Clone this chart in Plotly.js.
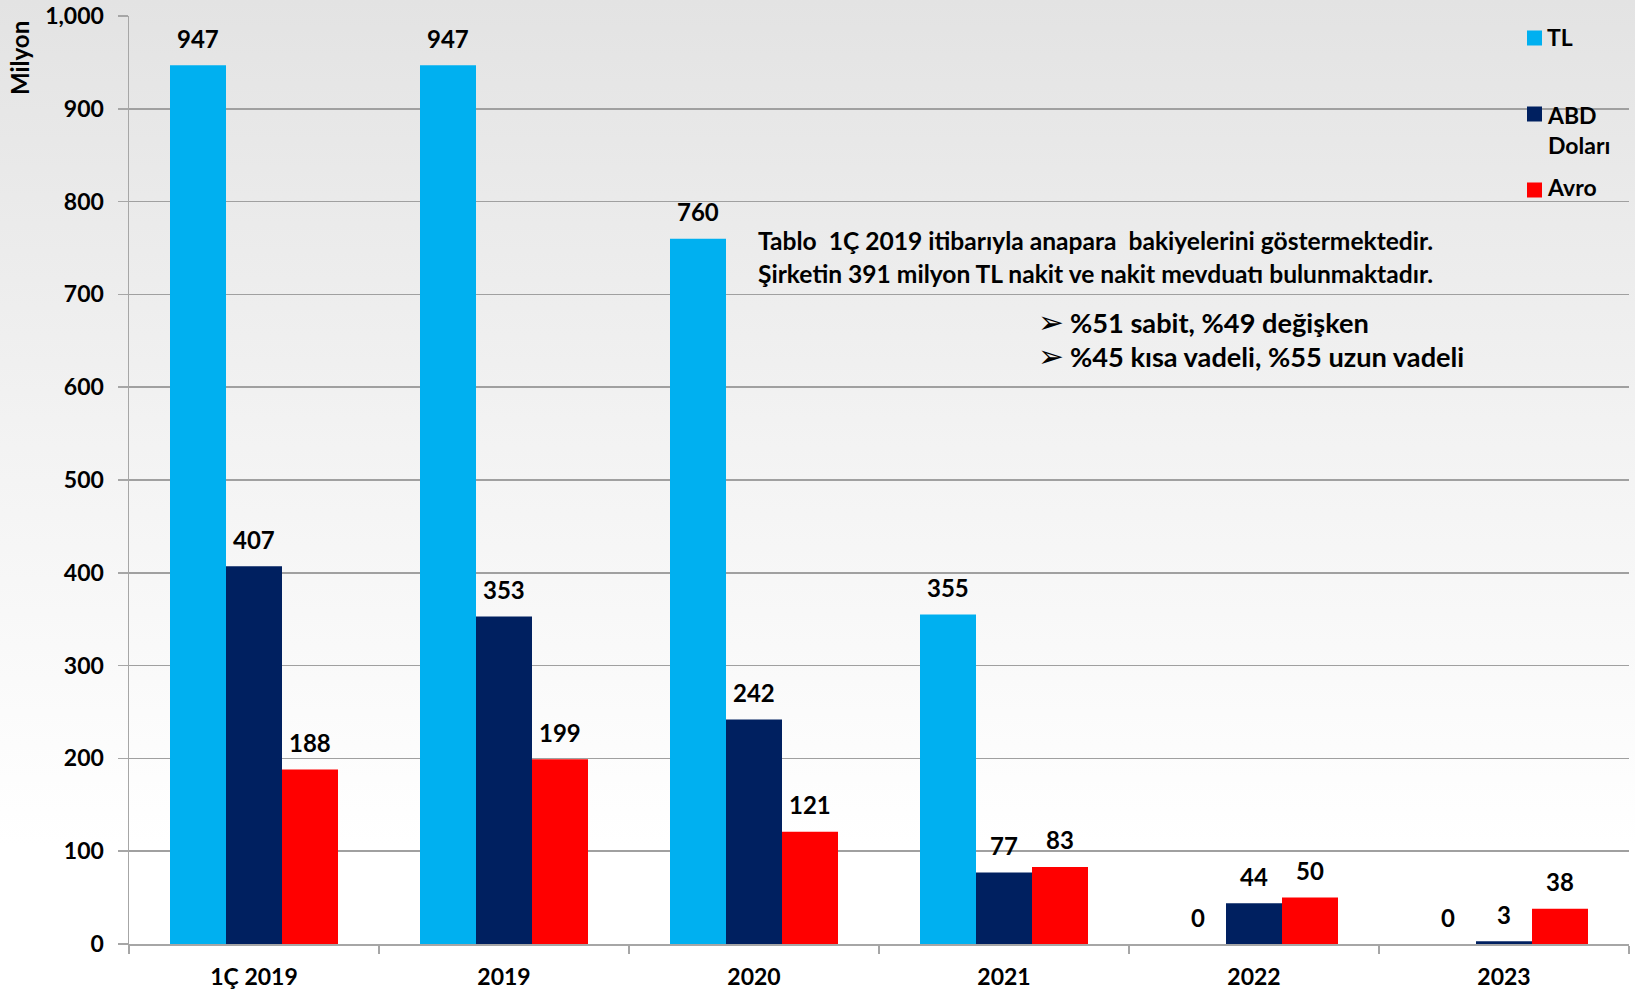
<!DOCTYPE html>
<html>
<head>
<meta charset="utf-8">
<script src="https://cdn.plot.ly/plotly-3.0.1.min.js"></script>
<style>
  html, body { margin: 0; padding: 0; }
  body {
    width: 1635px; height: 994px; overflow: hidden;
    background: linear-gradient(to bottom, #e3e3e3 0%, #f3f3f3 45%, #ffffff 85%, #ffffff 100%);
  }
  #chart { width: 1635px; height: 994px; }
</style>
</head>
<body>
<div id="chart"></div>
<script>
// Principal balances by currency (million)
const categories = ['1Ç 2019', '2019', '2020', '2021', '2022', '2023'];
const seriesNames = ['TL', 'ABD Doları', 'Avro'];
const tlValues = [947, 947, 760, 355, 0, 0];
const usdValues = [407, 353, 242, 77, 44, 3];
const eurValues = [188, 199, 121, 83, 50, 38];
const seriesColors = ['#00B0F0', '#002060', '#FF0000'];
const yTickValues = [0, 100, 200, 300, 400, 500, 600, 700, 800, 900, 1000];
const yTickLabels = ['0', '100', '200', '300', '400', '500', '600', '700', '800', '900', '1,000'];
const noteLines = [
  'Tablo  1Ç 2019 itibarıyla anapara  bakiyelerini göstermektedir.',
  'Şirketin 391 milyon TL nakit ve nakit mevduatı bulunmaktadır.'
];
const bulletLines = ['%51 sabit, %49 değişken', '%45 kısa vadeli, %55 uzun vadeli'];

const FONT = 'Lato, "Open Sans", Arial, sans-serif';
const series = [tlValues, usdValues, eurValues];

// plot area in pixels
const W = 1635, H = 994;
const M = { l: 129, r: 6, t: 16, b: 50 };
const PW = W - M.l - M.r, PH = H - M.t - M.b;
const px = x => (x - M.l) / PW;
const py = y => (H - M.b - y) / PH;

const BARGAP = 0.328;
const barW = (1 - BARGAP) / 3;

const traces = series.map((vals, i) => ({
  type: 'bar',
  name: seriesNames[i],
  x: categories,
  y: vals,
  marker: { color: seriesColors[i], line: { width: 0 } },
  showlegend: false,
  hoverinfo: 'x+y+name'
}));

const annotations = [];

// value labels above each bar
series.forEach((vals, i) => {
  vals.forEach((v, j) => {
    annotations.push({
      xref: 'x', yref: 'y',
      x: j + (i - 1) * barW, y: v,
      text: String(v), showarrow: false,
      yanchor: 'middle', yshift: 27,
      font: { family: FONT, size: 24, color: '#000', weight: 'bold' }
    });
  });
});

// y axis title
annotations.push({
  xref: 'paper', yref: 'paper', x: px(20), y: py(58),
  text: 'Milyon', textangle: -90, showarrow: false,
  xanchor: 'center', yanchor: 'middle',
  font: { family: FONT, size: 24, color: '#000', weight: 'bold' }
});

// note text
const noteY = [241, 273];
noteLines.forEach((t, k) => {
  annotations.push({
    xref: 'paper', yref: 'paper', x: px(756), y: py(noteY[k]),
    text: t, showarrow: false, xanchor: 'left', yanchor: 'middle',
    font: { family: FONT, size: 24.6, color: '#000', weight: 'bold' }
  });
});

// bullet points
const bulletY = [322, 356];
bulletLines.forEach((t, k) => {
  annotations.push({
    xref: 'paper', yref: 'paper', x: px(1036), y: py(bulletY[k]),
    text: '➢', showarrow: false, xanchor: 'left', yanchor: 'middle',
    font: { family: '"DejaVu Sans", sans-serif', size: 31, color: '#000' }
  });
  annotations.push({
    xref: 'paper', yref: 'paper', x: px(1068), y: py(bulletY[k]),
    text: t, showarrow: false, xanchor: 'left', yanchor: 'middle',
    font: { family: FONT, size: 27.2, color: '#000', weight: 'bold' }
  });
});

// legend (squares + labels)
const shapes = [];
const legendY = [38, 114, 190];
const legendTextY = [37, 130, 187];
const legendText = ['TL', 'ABD<br>Doları', 'Avro'];
seriesNames.forEach((n, i) => {
  shapes.push({
    type: 'rect', xref: 'paper', yref: 'paper',
    x0: px(1527), x1: px(1542), y0: py(legendY[i] - 7.5), y1: py(legendY[i] + 7.5),
    fillcolor: seriesColors[i], line: { width: 0 }
  });
  annotations.push({
    xref: 'paper', yref: 'paper', x: px(1545), y: py(legendTextY[i]),
    text: legendText[i], showarrow: false, xanchor: 'left', yanchor: 'middle', align: 'left',
    font: { family: FONT, size: 23, color: '#000', weight: 'bold' }
  });
});

const layout = {
  width: W, height: H,
  margin: M,
  paper_bgcolor: 'rgba(0,0,0,0)',
  plot_bgcolor: 'rgba(0,0,0,0)',
  barmode: 'group',
  bargap: BARGAP,
  bargroupgap: 0,
  showlegend: false,
  xaxis: {
    type: 'category',
    tickson: 'boundaries',
    ticks: 'outside', ticklen: 8, tickcolor: '#a6a6a6', tickwidth: 1.5,
    showline: true, linecolor: '#a6a6a6', linewidth: 1.5,
    showgrid: false, zeroline: false,
    ticklabelstandoff: 12,
    tickfont: { family: FONT, size: 23, color: '#000', weight: 'bold' },
    fixedrange: true
  },
  yaxis: {
    range: [0, 1000],
    tickvals: yTickValues, ticktext: yTickLabels,
    ticks: 'outside', ticklen: 10, tickcolor: '#a6a6a6', tickwidth: 1.5,
    showline: true, linecolor: '#a6a6a6', linewidth: 1.5,
    showgrid: true, gridcolor: '#a0a0a0', gridwidth: 1.5,
    zeroline: false,
    ticklabelstandoff: 9,
    ticklabeloverflow: 'allow',
    tickfont: { family: FONT, size: 23, color: '#000', weight: 'bold' },
    fixedrange: true
  },
  annotations: annotations,
  shapes: shapes
};

Plotly.newPlot('chart', traces, layout, { displayModeBar: false, staticPlot: true });
</script>
</body>
</html>
